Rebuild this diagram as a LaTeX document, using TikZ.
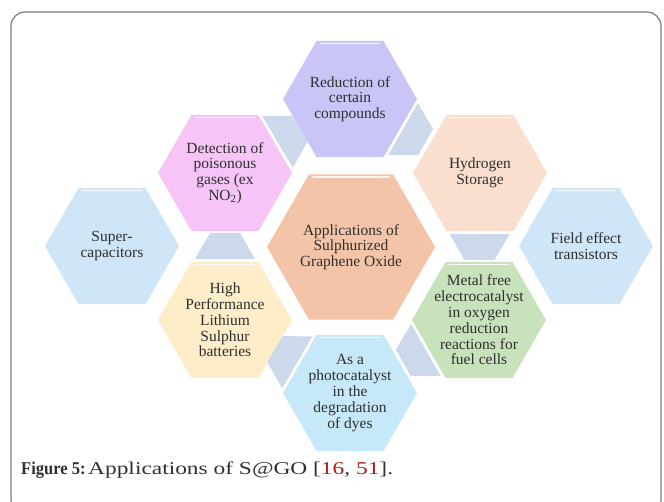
\documentclass[tikz,border=0pt]{standalone}
\usepackage{fontspec}
\setmainfont{Liberation Serif}
\usetikzlibrary{shapes.geometric,calc}

\definecolor{cPurple}{RGB}{201,197,246}
\definecolor{cPink}{RGB}{246,196,246}
\definecolor{cPeach}{RGB}{250,222,206}
\definecolor{cCore}{RGB}{244,196,168}
\definecolor{cSky}{RGB}{207,230,248}
\definecolor{cCream}{RGB}{253,237,200}
\definecolor{cSage}{RGB}{200,226,188}
\definecolor{cIce}{RGB}{198,232,248}
\definecolor{cLink}{RGB}{204,217,235}
\definecolor{cInk}{RGB}{48,48,48}
\definecolor{cFrame}{RGB}{125,125,125}
\definecolor{cRef}{RGB}{170,28,28}

% tapered piece in the gap between two neighbouring outer cells
\newcommand\gappiece[2]{%
  \fill[linkpiece]
    ($(#1)!61pt!(#2)!30pt!90:(#2)$) -- ($(#1)!61pt!(#2)!30pt!-90:(#2)$) --
    ($(#1)!87pt!(#2)!15pt!-90:(#2)$) -- ($(#1)!87pt!(#2)!15pt!90:(#2)$) -- cycle;}

% light rim along the upper side of a cell
\newcommand\rim[2]{%
  \draw[rimline] ($(#1)+(-0.5*#2+4,-0.866*#2+2.5)$) -- ($(#1)+(0.5*#2-4,-0.866*#2+2.5)$);}

\begin{document}
\begin{tikzpicture}[x=1pt,y=-1pt,
  hexsmall/.style={regular polygon,regular polygon sides=6,minimum size=134pt,
    inner sep=0pt,outer sep=0pt,draw=none},
  hexbig/.style={regular polygon,regular polygon sides=6,minimum size=168pt,
    inner sep=0pt,outer sep=0pt,draw=none},
  hextext/.style={align=center,text=cInk,inner sep=0pt,
    font=\fontsize{15.5}{15.8}\selectfont},
  linkpiece/.style={fill=cLink},
  rimline/.style={white,line width=1.6pt,opacity=0.85,line cap=round},
  frameline/.style={draw=cFrame,line width=1.2pt,rounded corners=14pt},
  captext/.style={anchor=base west,inner sep=0pt,text=cInk,
    font=\fontsize{18}{20}\selectfont}]

\useasboundingbox (0,0) rectangle (664,502);
\clip (0,0) rectangle (664,502);
\fill[white] (0,0) rectangle (664,502);

% outer frame
\draw[frameline] (11,12) rectangle (661,514);

% cells
\node[hexbig,fill=cCore] (core) at (351,247) {};
\node[hexsmall,fill=cPurple] (reduce) at (350,99) {};
\node[hexsmall,fill=cPink] (detect) at (225,173) {};
\node[hexsmall,fill=cPeach] (hydro) at (480,173) {};
\node[hexsmall,fill=cCream] (lisb) at (225,320) {};
\node[hexsmall,fill=cSage] (orr) at (479,320) {};
\node[hexsmall,fill=cIce] (photo) at (350,393) {};
\node[hexsmall,fill=cSky] (supcap) at (112,246) {};
\node[hexsmall,fill=cSky] (fet) at (586,246) {};

% gap pieces around the ring
\gappiece{reduce}{hydro}
\gappiece{hydro}{orr}
\gappiece{orr}{photo}
\gappiece{photo}{lisb}
\gappiece{lisb}{detect}
\gappiece{detect}{reduce}

% rims
\rim{core}{84}
\rim{reduce}{67}
\rim{detect}{67}
\rim{hydro}{67}
\rim{lisb}{67}
\rim{orr}{67}
\rim{photo}{67}
\rim{supcap}{67}
\rim{fet}{67}

% labels
\node[hextext] (coreT) at (core) {Applications of\\Sulphurized\\Graphene Oxide};
\node[hextext] (reduceT) at (reduce) {Reduction of\\certain\\compounds};
\node[hextext] (detectT) at (detect) {Detection of\\poisonous\\gases (ex\\NO\textsubscript{2})};
\node[hextext] (hydroT) at (hydro) {Hydrogen\\Storage};
\node[hextext] (lisbT) at (lisb) {High\\Performance\\Lithium\\Sulphur\\batteries};
\node[hextext] (orrT) at (orr) {Metal free\\electrocatalyst\\in oxygen\\reduction\\reactions for\\fuel cells};
\node[hextext] (photoT) at (photo) {As a\\photocatalyst\\in the\\degradation\\of dyes};
\node[hextext] (supcapT) at (supcap) {Super-\\capacitors};
\node[hextext] (fetT) at (fet) {Field effect\\transistors};

% caption
\node[captext] (capA) at (21,474) {\scalebox{0.92}[1]{\bfseries Figure 5:}};
\node[captext] (capB) at (88,474)
  {\scalebox{1.3}[1]{Applications of S@GO [\textcolor{cRef}{16}, \textcolor{cRef}{51}].}};

\end{tikzpicture}
\end{document}
